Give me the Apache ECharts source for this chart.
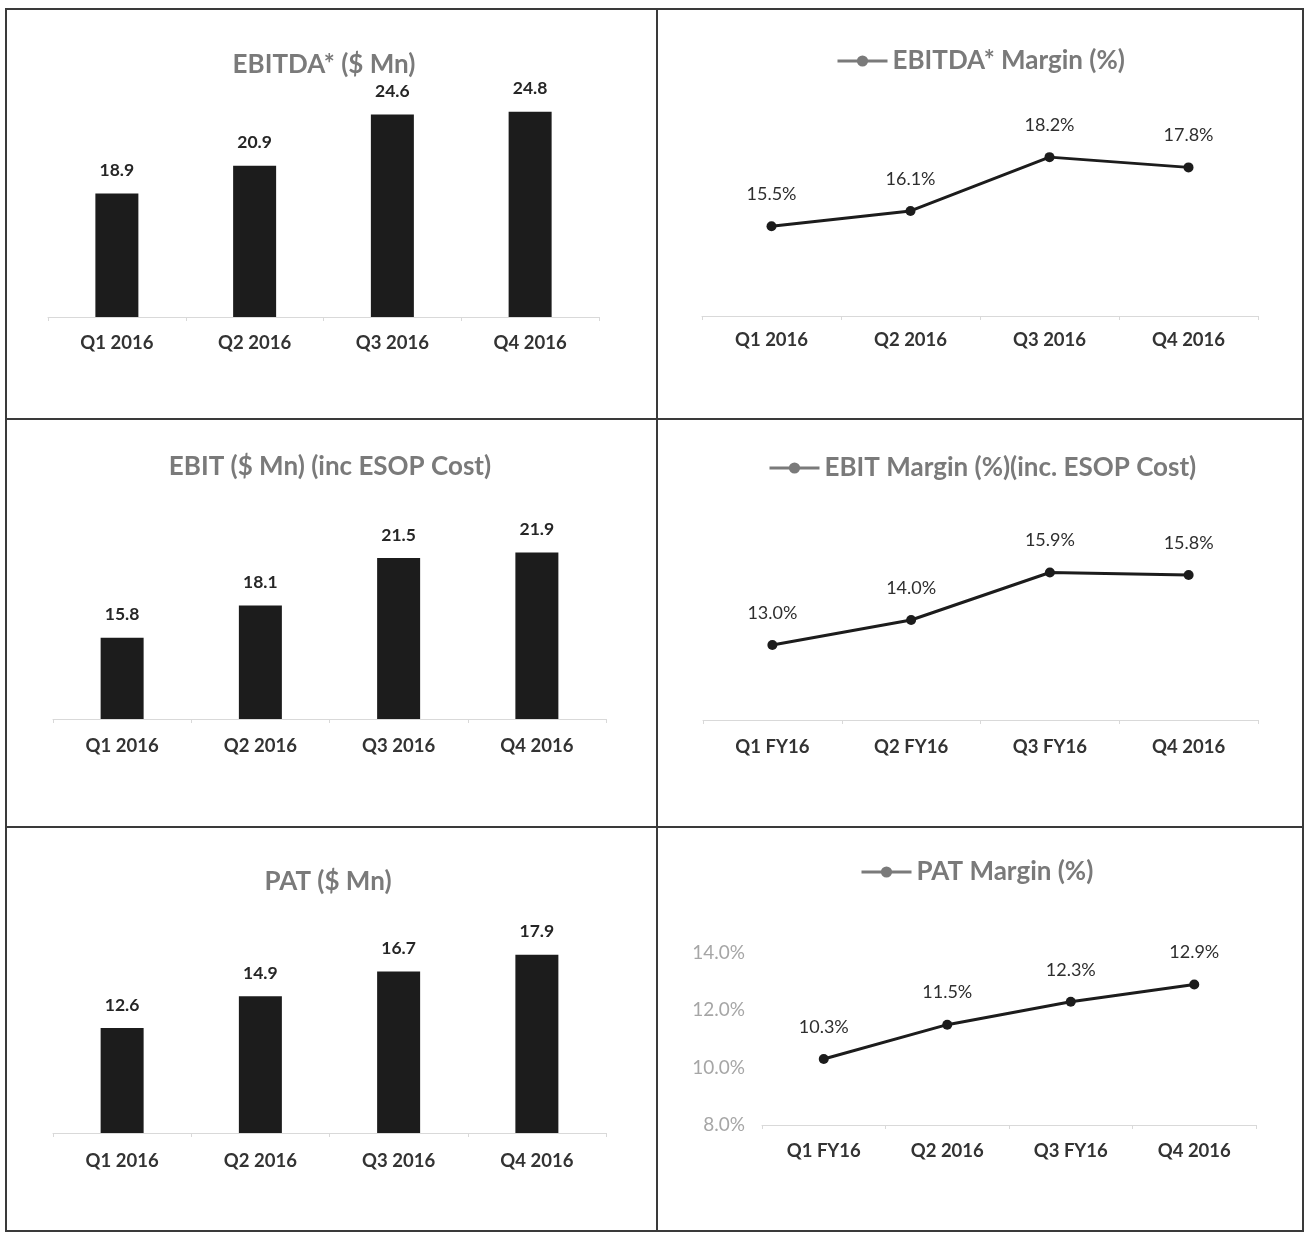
<!DOCTYPE html>
<html>
<head>
<meta charset="utf-8">
<title>Quarterly Financial Highlights 2016</title>
<script src="https://cdn.jsdelivr.net/npm/echarts@6/dist/echarts.min.js"></script>
<style>
  html, body { margin: 0; padding: 0; background: #ffffff; }
  #chart { width: 1306px; height: 1235px; }
</style>
</head>
<body>
<div id="chart"></div>
<script>
// Quarter labels per panel
const quarters2016 = ['Q1 2016', 'Q2 2016', 'Q3 2016', 'Q4 2016'];
const ebitMarginQuarters = ['Q1 FY16', 'Q2 FY16', 'Q3 FY16', 'Q4 2016'];
const patMarginQuarters = ['Q1 FY16', 'Q2 2016', 'Q3 FY16', 'Q4 2016'];

// Values ($ Mn and %)
const ebitda = [18.9, 20.9, 24.6, 24.8];
const ebitdaMargin = [15.5, 16.1, 18.2, 17.8];
const ebit = [15.8, 18.1, 21.5, 21.9];
const ebitMargin = [13.0, 14.0, 15.9, 15.8];
const pat = [12.6, 14.9, 16.7, 17.9];
const patMargin = [10.3, 11.5, 12.3, 12.9];

// Value-axis tick labels shown on the PAT margin panel
const patMarginTicks = [8, 10, 12, 14];

const FONT = 'Lato, "Open Sans", sans-serif';
const TITLE_GREY = '#7a7a7a';
const INK = '#1c1c1c';
const AXIS_GREY = '#d9d9d9';

const chart = echarts.init(document.getElementById('chart'), null, { renderer: 'canvas' });

// Panel layout: grid boxes and value-axis ranges
const panels = [
  { left: 48,  top: 95,  width: 551, height: 222, min: 10, max: 26, cats: quarters2016, labelMargin: 17 },
  { left: 702, top: 111, width: 556, height: 205, min: 12, max: 20, cats: quarters2016, labelMargin: 15 },
  { left: 53,  top: 495, width: 553, height: 224, min: 10, max: 26, cats: quarters2016, labelMargin: 18 },
  { left: 703, top: 520, width: 555, height: 200, min: 10, max: 18, cats: ebitMarginQuarters, labelMargin: 18 },
  { left: 53,  top: 912, width: 553, height: 221, min: 5,  max: 21, cats: quarters2016, labelMargin: 19 },
  { left: 762, top: 953, width: 494, height: 172, min: 8,  max: 14, cats: patMarginQuarters, labelMargin: 17 }
];

const grid = panels.map(p => ({ left: p.left, top: p.top, width: p.width, height: p.height, containLabel: false }));

const xAxis = panels.map((p, i) => ({
  type: 'category',
  gridIndex: i,
  data: p.cats,
  boundaryGap: true,
  axisLine: { show: true, lineStyle: { color: AXIS_GREY, width: 1 } },
  axisTick: { show: true, length: 4, lineStyle: { color: AXIS_GREY } },
  axisLabel: { margin: p.labelMargin, color: '#333333', fontFamily: FONT, fontWeight: 'bold', fontSize: 18.5 },
  splitLine: { show: false }
}));

const yAxis = panels.map((p, i) => {
  const isPatMargin = i === 5;
  return {
    type: 'value',
    gridIndex: i,
    min: p.min,
    max: p.max,
    interval: isPatMargin ? (patMarginTicks[1] - patMarginTicks[0]) : 2,
    show: isPatMargin,
    axisLine: { show: false },
    axisTick: { show: false },
    splitLine: { show: false },
    axisLabel: {
      show: isPatMargin,
      margin: 17,
      color: '#a6a6a6',
      fontFamily: FONT,
      fontSize: 19,
      formatter: v => v.toFixed(1) + '%'
    }
  };
});

function barSeries(name, data, idx) {
  return {
    name: name,
    type: 'bar',
    xAxisIndex: idx,
    yAxisIndex: idx,
    data: data,
    barWidth: 43,
    itemStyle: { color: INK },
    label: {
      show: true,
      position: 'top',
      distance: 14,
      color: '#262626',
      fontFamily: FONT,
      fontWeight: 'bold',
      fontSize: 17.5,
      formatter: p => p.value.toFixed(1)
    },
    silent: true
  };
}

function lineSeries(name, data, idx) {
  return {
    name: name,
    type: 'line',
    xAxisIndex: idx,
    yAxisIndex: idx,
    data: data,
    symbol: 'circle',
    symbolSize: 10,
    lineStyle: { color: INK, width: 3 },
    itemStyle: { color: INK },
    label: {
      show: true,
      position: 'top',
      distance: 18,
      color: '#2e2e2e',
      fontFamily: FONT,
      fontSize: 18,
      formatter: p => p.value.toFixed(1) + '%'
    },
    silent: true
  };
}

const titleStyle = { color: TITLE_GREY, fontFamily: FONT, fontWeight: 'bold', fontSize: 26 };

const title = [
  { text: 'EBITDA* ($ Mn)', left: 324, top: 52, textAlign: 'center', padding: 0, textStyle: titleStyle },
  { text: 'EBIT ($ Mn) (inc ESOP Cost)', left: 330, top: 454, textAlign: 'center', padding: 0, textStyle: titleStyle },
  { text: 'PAT ($ Mn)', left: 328, top: 869, textAlign: 'center', padding: 0, textStyle: titleStyle }
];

// Series legends act as the titles of the margin panels
function legendAt(name, left, top) {
  return {
    data: [name],
    left: left,
    top: top,
    padding: 0,
    itemWidth: 50,
    itemHeight: 14,
    selectedMode: false,
    itemStyle: { color: TITLE_GREY },
    lineStyle: { color: TITLE_GREY, width: 3 },
    textStyle: titleStyle
  };
}

const legend = [
  legendAt('EBITDA* Margin (%)', 836, 48),
  legendAt('EBIT Margin (%)(inc. ESOP Cost)', 768, 455),
  legendAt('PAT Margin (%)', 860, 859)
];

// Panel frame: outer box plus dividing lines
const FRAME = '#3a3a3a';
const graphic = [
  { type: 'rect', shape: { x: 6, y: 9, width: 1297, height: 1222 }, style: { fill: 'none', stroke: FRAME, lineWidth: 2 }, silent: true, z: 100 },
  { type: 'line', shape: { x1: 657, y1: 9, x2: 657, y2: 1231 }, style: { stroke: FRAME, lineWidth: 2 }, silent: true, z: 100 },
  { type: 'line', shape: { x1: 6, y1: 419, x2: 1303, y2: 419 }, style: { stroke: FRAME, lineWidth: 2 }, silent: true, z: 100 },
  { type: 'line', shape: { x1: 6, y1: 827, x2: 1303, y2: 827 }, style: { stroke: FRAME, lineWidth: 2 }, silent: true, z: 100 }
];

chart.setOption({
  animation: false,
  backgroundColor: '#ffffff',
  title: title,
  legend: legend,
  grid: grid,
  xAxis: xAxis,
  yAxis: yAxis,
  graphic: graphic,
  series: [
    barSeries('EBITDA* ($ Mn)', ebitda, 0),
    lineSeries('EBITDA* Margin (%)', ebitdaMargin, 1),
    barSeries('EBIT ($ Mn) (inc ESOP Cost)', ebit, 2),
    lineSeries('EBIT Margin (%)(inc. ESOP Cost)', ebitMargin, 3),
    barSeries('PAT ($ Mn)', pat, 4),
    lineSeries('PAT Margin (%)', patMargin, 5)
  ]
});
</script>
</body>
</html>
